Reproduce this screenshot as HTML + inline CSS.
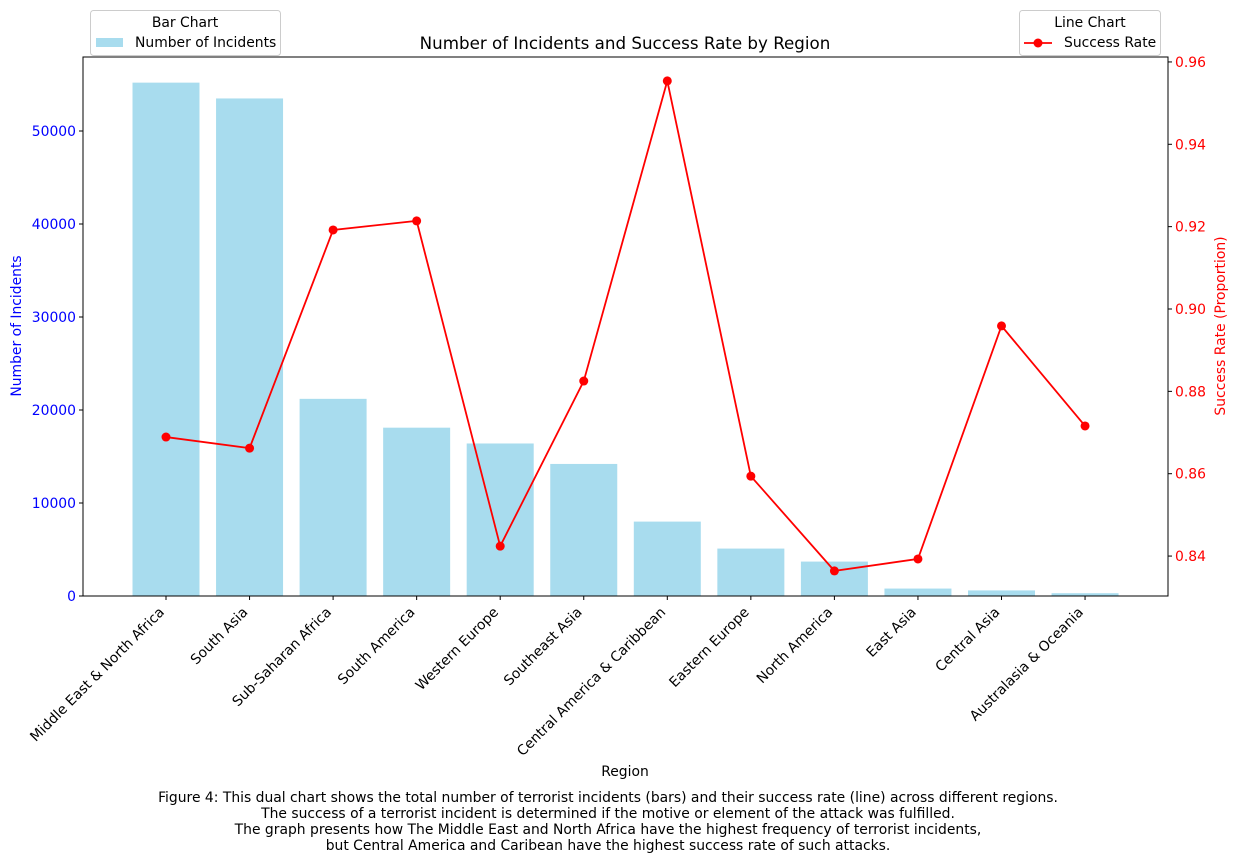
<!DOCTYPE html>
<html><head><meta charset="utf-8"><style>
body{margin:0;background:#fff;}
svg{font-family:"DejaVu Sans","Liberation Sans",sans-serif;}
</style></head><body>
<svg id="chart" width="1238" height="863" viewBox="0 0 1238 863" xmlns="http://www.w3.org/2000/svg">
<g id="plot"></g>
</svg>
<script>
const categories=["Middle East & North Africa","South Asia","Sub-Saharan Africa","South America","Western Europe","Southeast Asia","Central America & Caribbean","Eastern Europe","North America","East Asia","Central Asia","Australasia & Oceania"];
const incidents=[55200,53500,21200,18100,16400,14200,8000,5100,3700,800,600,300];
const successRate=[0.8689,0.8662,0.9192,0.9214,0.8424,0.8825,0.9554,0.8594,0.8364,0.8393,0.8959,0.8716];
const leftTicks=[0,10000,20000,30000,40000,50000];
const rightTicks=[0.84,0.86,0.88,0.90,0.92,0.94,0.96];

const FS=13.9;
const L=83,R=1168,T=57,B=596;
const yL=v=>B-v*(B-T)/57957;
const yR=v=>B-(v-0.8303)*(B-T)/(0.9612-0.8303);
const xC=i=>166+i*83.55;
const NS="http://www.w3.org/2000/svg";
const svg=document.getElementById('plot');
function mk(t,a,txt){const e=document.createElementNS(NS,t);for(const k in a)e.setAttribute(k,a[k]);if(txt!==undefined)e.textContent=txt;svg.appendChild(e);return e;}

incidents.forEach((v,i)=>{
 const r=mk('rect',{x:xC(i)-33.5,y:yL(v),width:67,height:B-yL(v),fill:'#a8dcee'});
 
 
});
const fr=mk('rect',{x:L,y:T,width:R-L,height:B-T,fill:'none',stroke:'#000','stroke-width':1});



leftTicks.forEach(t=>{
 const y=yL(t);
 mk('line',{x1:L-4,x2:L,y1:y,y2:y,stroke:'#000'});
 const tx=mk('text',{x:L-7,y:y+5,'text-anchor':'end','font-size':FS,fill:'blue'},String(t));
 
 
});
rightTicks.forEach(t=>{
 const y=yR(t);
 mk('line',{x1:R,x2:R+4,y1:y,y2:y,stroke:'#000'});
 const tx=mk('text',{x:R+7,y:y+5,'font-size':FS,fill:'red'},t.toFixed(2));
 
 
});
categories.forEach((c,i)=>{
 const x=xC(i);
 mk('line',{x1:x,x2:x,y1:B,y2:B+4,stroke:'#000'});
 const ax=x-1, ay=B+17;
 const tx=mk('text',{x:ax,y:ay,'text-anchor':'end','font-size':FS,transform:`rotate(-45 ${ax} ${ay})`},c);
 
 
});
const pts=successRate.map((v,i)=>xC(i)+','+yR(v)).join(' ');
const pl=mk('polyline',{points:pts,fill:'none',stroke:'red','stroke-width':1.8});


successRate.forEach((v,i)=>{
 const c=mk('circle',{cx:xC(i),cy:yR(v),r:4.5,fill:'red'});
 
 
});

function txt(x,y,s,a,name){const t=mk('text',Object.assign({x:x,y:y,'font-size':FS},a),s);return t;}
txt(625,49,'Number of Incidents and Success Rate by Region',{'text-anchor':'middle','font-size':16.7},'chart-title');
txt(21,326,'Number of Incidents',{'text-anchor':'middle',fill:'blue',transform:'rotate(-90 21 326)'},'y-axis-title-left');
txt(1225,326,'Success Rate (Proportion)',{'text-anchor':'middle',fill:'red',transform:'rotate(-90 1225 326)'},'y-axis-title-right');
txt(625,776,'Region',{'text-anchor':'middle'},'x-axis-title');
const cap=['Figure 4: This dual chart shows the total number of terrorist incidents (bars) and their success rate (line) across different regions.','The success of a terrorist incident is determined if the motive or element of the attack was fulfilled.','The graph presents how The Middle East and North Africa have the highest frequency of terrorist incidents,','but Central America and Caribean have the highest success rate of such attacks.'];
cap.forEach((s,i)=>txt(608,802+i*16,s,{'text-anchor':'middle'},'caption-line'));

const lg1=mk('rect',{x:90.5,y:10.5,width:190,height:45,rx:3,fill:'#fff','fill-opacity':0.8,stroke:'#ccc'});


txt(185,27,'Bar Chart',{'text-anchor':'middle'},'bar-legend-title');
mk('rect',{x:96,y:38,width:27,height:9,fill:'#a8dcee'});
txt(135,47,'Number of Incidents',{},'legend-entry-incidents');
const lg2=mk('rect',{x:1019.5,y:10.5,width:141,height:45,rx:3,fill:'#fff','fill-opacity':0.8,stroke:'#ccc'});


txt(1090,27,'Line Chart',{'text-anchor':'middle'},'line-legend-title');
mk('line',{x1:1024,x2:1052,y1:43,y2:43,stroke:'red','stroke-width':1.8});
mk('circle',{cx:1038,cy:43,r:4.5,fill:'red'});
txt(1064,47,'Success Rate',{},'legend-entry-success');
</script>
</body></html>
